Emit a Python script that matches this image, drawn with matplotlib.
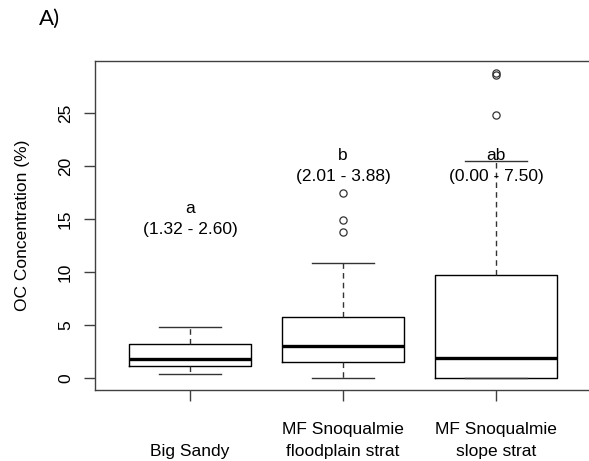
import matplotlib
matplotlib.use("Agg")
import matplotlib.pyplot as plt

# box statistics (OC %)
groups = ["Big Sandy", "MF Snoqualmie\nfloodplain strat", "MF Snoqualmie\nslope strat"]
whislo = [0.4, 0.0, 0.0]
q1 = [1.15, 1.5, 0.0]
med = [1.8, 3.0, 1.9]
q3 = [3.2, 5.75, 9.7]
whishi = [4.8, 10.85, 20.5]
fliers = [[], [13.8, 14.9, 17.5], [24.8, 28.6, 28.8]]

letters = ["a", "b", "ab"]
ranges = ["(1.32 - 2.60)", "(2.01 - 3.88)", "(0.00 - 7.50)"]
letter_y = [16, 21, 21]
range_y = [14, 19, 19]

plt.rcParams['font.family'] = ['Liberation Sans', 'DejaVu Sans']

fig = plt.figure(figsize=(5.89, 4.61), dpi=100)
# right frame edge sits just past the picture edge, as in the cropped original
ax = fig.add_axes([95/589, 1-390/461, (591-95)/589, (390-61)/461])

stats = []
for i in range(len(groups)):
    stats.append(dict(label=groups[i], whislo=whislo[i], q1=q1[i], med=med[i],
                      q3=q3[i], whishi=whishi[i], fliers=fliers[i]))

pos = list(range(1, len(groups)+1))
ax.bxp(stats, positions=pos, widths=0.8, capwidths=0.4,
       boxprops=dict(color='black', lw=1.0),
       medianprops=dict(color='black', lw=2.4),
       whiskerprops=dict(color='#333333', lw=1.0, linestyle=(0, (4, 3))),
       capprops=dict(color='#333333', lw=1.0),
       flierprops=dict(marker='o', mfc='none', mec='#333333', ms=5.2, mew=0.9))

# R style 4% axis extension
allv = whislo + whishi + [v for f in fliers for v in f]
lo, hi = min(allv), max(allv)
ext = (hi - lo) * 0.04
ax.set_ylim(lo - ext, hi + ext)
ax.set_xlim(0.5 - 0.12, len(groups) + 0.5 + 0.12)

for i in range(len(groups)):
    ax.text(pos[i], letter_y[i], letters[i], ha='center', va='center', fontsize=12.5)
    ax.text(pos[i], range_y[i], ranges[i], ha='center', va='center', fontsize=12.5)

ax.set_yticks([0, 5, 10, 15, 20, 25])
ax.set_xticks(pos)
ax.set_xticklabels(groups, fontsize=12.5, va='bottom', multialignment='center',
                   linespacing=1.55)
ax.tick_params(axis='x', length=7.9, width=1, color='#404040', pad=41.5)
ax.tick_params(axis='y', length=7.9, width=1, color='#404040', pad=8, labelsize=12.5)
for lab in ax.get_yticklabels():
    lab.set_rotation(90)
    lab.set_va('center')

for s in ax.spines.values():
    s.set_color('#404040')
    s.set_linewidth(1.0)

fig.text(23/589, 1-225/461, "OC Concentration (%)", rotation=90,
         ha='center', va='center', fontsize=12.5)
fig.text(39/589, 1-19/461, "A)", ha='left', va='center', fontsize=16,
         family=['Lato', 'DejaVu Sans'])

fig.savefig("out.png", dpi=100)
